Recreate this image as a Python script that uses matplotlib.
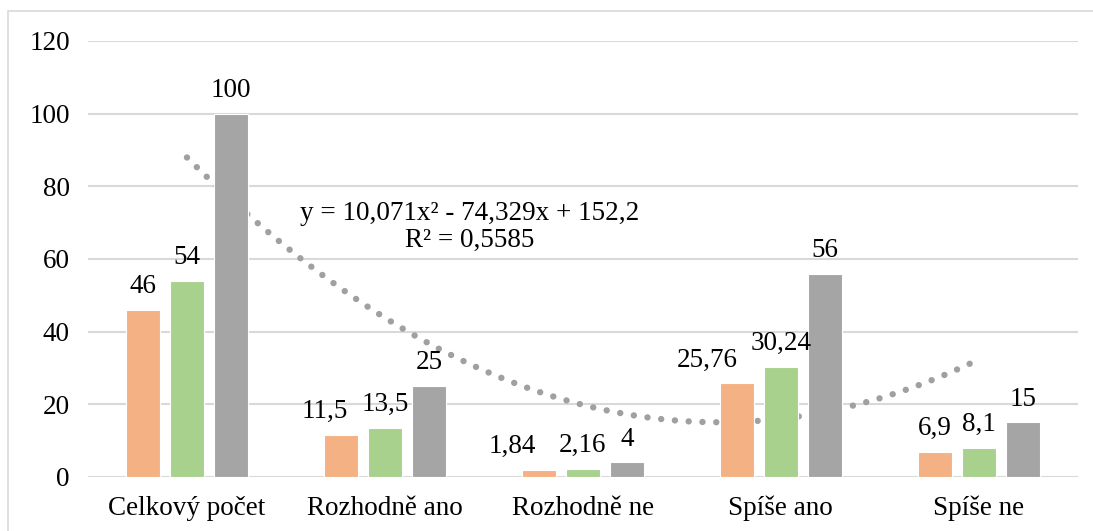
import numpy as np
import matplotlib.pyplot as plt
from matplotlib.patches import Rectangle

plt.rcParams["font.family"] = ["Liberation Serif", "DejaVu Serif"]

categories = ["Celkový počet", "Rozhodně ano", "Rozhodně ne", "Spíše ano", "Spíše ne"]
s1 = [46, 11.5, 1.84, 25.76, 6.9]
s2 = [54, 13.5, 2.16, 30.24, 8.1]
s3 = [100, 25, 4, 56, 15]
yticks = [0, 20, 40, 60, 80, 100, 120]

colors = ["#F4B183", "#A9D18E", "#A5A5A5"]
fs = 19.5

fig = plt.figure(figsize=(10.93, 5.31), dpi=100)
ax = fig.add_axes([0.0805, 0.1017, 0.9055, 0.8211])

x = np.arange(len(categories))
step = 0.222
width = 0.172

# polynomial trendline (order 2) of the third series, drawn behind bars
coef = np.polyfit(x + 1, s3, 2)
tx = np.linspace(1, len(categories), 200)
ty = np.polyval(coef, tx)
ax.plot(tx - 1, ty, color="#A0A0A0", lw=4.6, linestyle=(0, (0.01, 2.15)),
        dash_capstyle="round", zorder=2)

# labels moved sideways so they don't run into the neighbour (points)
shift = {(0, 1): -11.5, (0, 2): -19.5, (0, 3): -21.5}

for i, (vals, c) in enumerate(zip([s1, s2, s3], colors)):
    pos = x + (i - 1) * step
    ax.bar(pos, vals, width, color=c, edgecolor="white", linewidth=0.8, zorder=3)
    for j, v in enumerate(vals):
        lbl = f"{v:g}".replace(".", ",")
        ax.annotate(lbl, (pos[j], v), xytext=(shift.get((i, j), 0), 12.2),
                    textcoords="offset points", ha="center", va="baseline",
                    fontsize=fs, color="black", zorder=5)

ss_res = np.sum((np.array(s3) - np.polyval(coef, x + 1)) ** 2)
ss_tot = np.sum((np.array(s3) - np.mean(s3)) ** 2)
r2 = 1 - ss_res / ss_tot
eq = (f"y = {coef[0]:.3f}x² - {abs(coef[1]):.3f}x + {coef[2]:.1f}\n"
      f"R² = {r2:.4f}").replace(".", ",")
ax.text(1.43, 68.8, eq, ha="center", va="center", fontsize=fs,
        linespacing=1.08, zorder=6,
        bbox=dict(facecolor="white", edgecolor="none", pad=1))

ax.set_xlim(-0.5, len(categories) - 0.5)
ax.set_ylim(0, 120)
ax.set_yticks(yticks)
ax.set_xticks(x, categories)
ax.yaxis.grid(True, color="#D9D9D9", lw=1.5, zorder=0)
ax.set_axisbelow(True)
for s in ax.spines.values():
    s.set_visible(False)
ax.tick_params(axis="both", length=0, labelsize=fs)
ax.tick_params(axis="y", pad=13)
ax.tick_params(axis="x", pad=13.5)

fig.patches.append(Rectangle((8 / 1093, -0.1), 1.2, 1.1 - 11 / 531, transform=fig.transFigure,
                             fill=False, edgecolor="#D9D9D9", lw=1.2))

fig.savefig("out.png", dpi=100)
